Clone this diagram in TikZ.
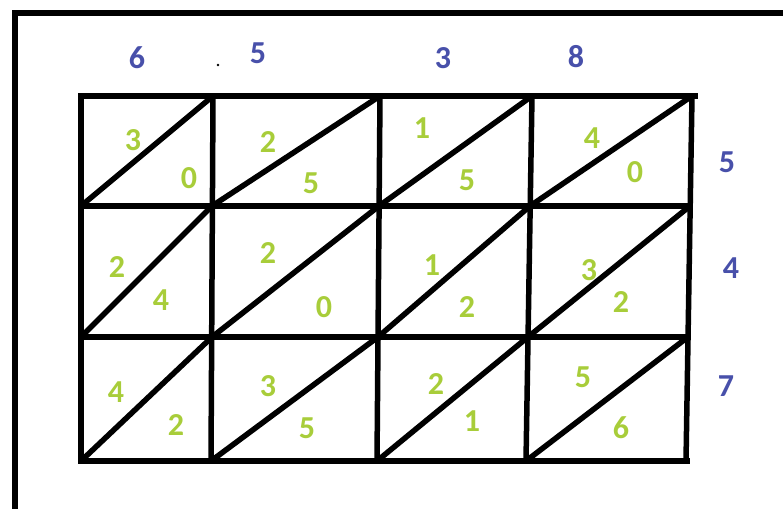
\documentclass[tikz,border=0pt]{standalone}
\usepackage{fontspec}
\setmainfont{Carlito}
\definecolor{digitgreen}{RGB}{168,205,58}
\definecolor{digitblue}{RGB}{72,80,170}
\begin{document}
\begin{tikzpicture}[x=1pt, y=-1pt, line width=5.5pt,
  cellnum/.style={text=digitgreen, font=\bfseries\fontsize{32}{32}\selectfont, inner sep=0pt},
  factor/.style={text=digitblue, font=\bfseries\fontsize{32}{32}\selectfont, inner sep=0pt}]
\useasboundingbox (0,0) rectangle (783,508);
% outer frame (cut by the page)
\draw (15,515) -- (15,13) -- (790,13);
% lattice rows
\draw (78,96) -- (698,96);
\draw (81,206) -- (692,206);
\draw (81,337) -- (690,337);
\draw (78,461) -- (690,461);
% lattice columns
\foreach \t/\b in {81/81, 213/211, 380/377, 532/526, 692/686}
  \draw (\t,96) -- (\b,461);
% diagonals
\foreach \xa/\ya/\xb/\yb in {81/206/213/96, 212/206/380/96, 379/206/532/96, 530/206/692/96,
  81/337/212/206, 212/337/379/206, 378/337/530/206, 528/337/690/206,
  81/461/212/337, 211/461/378/337, 377/461/528/337, 526/461/688/337}
  \draw (\xa,\ya) -- (\xb,\yb);
% partial products
\foreach \x/\y/\d [count=\i] in {133/140/3, 189/178/0, 268/142/2, 311/183/5,
  422/128/1, 467/180/5, 592/138/4, 635/172/0,
  117/267/2, 161/300/4, 268/253/2, 324/307/0,
  432/265/1, 467/307/2, 589/270/3, 621/302/2,
  116/392/4, 176/425/2, 268/386/3, 307/428/5,
  436/384/2, 472/421/1, 583/377/5, 621/428/6}
  \node[cellnum] (p\i) at (\x,\y) {\d};
% factors
\foreach \x/\y/\d [count=\i] in {137/58/6, 258/53/5, 443/58/3, 576/57/8}
  \node[factor] (top\i) at (\x,\y) {\d};
\foreach \x/\y/\d [count=\i] in {727/162/5, 731/268/4, 726/386/7}
  \node[factor] (side\i) at (\x,\y) {\d};
\fill (218,65) circle (1.3);
\end{tikzpicture}
\end{document}
